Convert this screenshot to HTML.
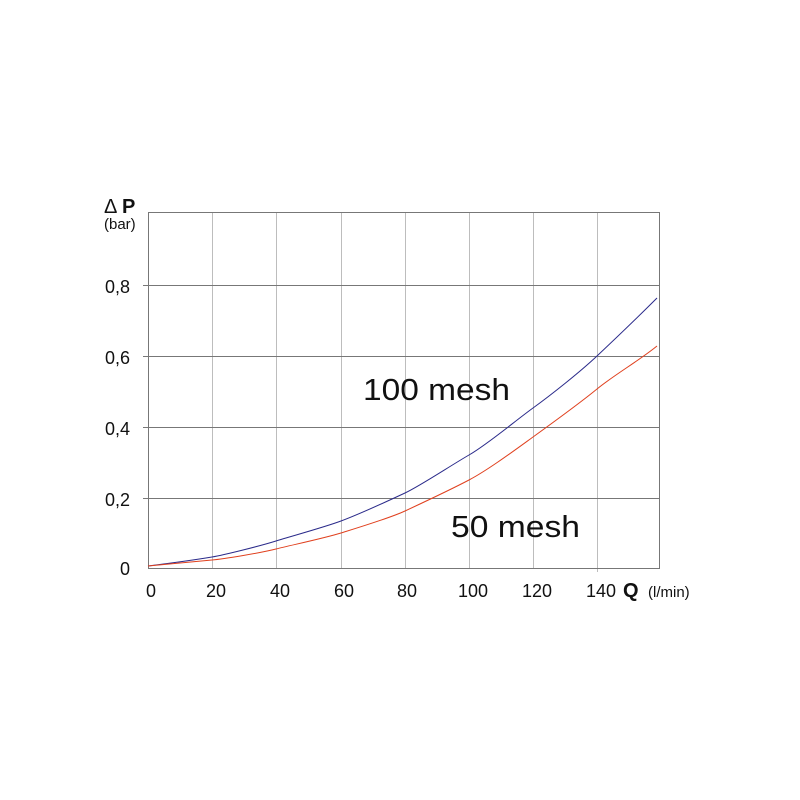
<!DOCTYPE html>
<html><head><style>body{margin:0;background:#fff}svg{display:block}</style></head><body>
<svg width="800" height="800" xmlns="http://www.w3.org/2000/svg" font-family="Liberation Sans, Arial, sans-serif">
<rect width="800" height="800" fill="#fff"/>
<g stroke="#bdbdbd" stroke-width="1">
<line x1="212.5" y1="212" x2="212.5" y2="568"/><line x1="276.5" y1="212" x2="276.5" y2="568"/>
<line x1="341.5" y1="212" x2="341.5" y2="568"/><line x1="405.5" y1="212" x2="405.5" y2="568"/>
<line x1="469.5" y1="212" x2="469.5" y2="568"/><line x1="533.5" y1="212" x2="533.5" y2="568"/>
<line x1="597.5" y1="212" x2="597.5" y2="572"/>
</g>
<g stroke="#777" stroke-width="1">
<line x1="143" y1="285.5" x2="660" y2="285.5"/><line x1="143" y1="356.5" x2="660" y2="356.5"/>
<line x1="143" y1="427.5" x2="660" y2="427.5"/><line x1="143" y1="498.5" x2="660" y2="498.5"/>
<rect x="148.5" y="212.5" width="511" height="356" fill="none"/>
</g>
<path d="M148,566 C180,562 200,559 212,557 S260,546 276,541 S325,527 341,521 S390,500 405,493 S450,466 469,455 S515,421 533,408 S580,372 597,356 S640,315 657,298" fill="none" stroke="#2a2a8a" stroke-width="1"/>
<path d="M148,566 C180,563 200,561 212,560 S260,553 276,549 S325,538 341,533 S390,518 405,511 S450,490 469,480 S515,450 533,437 S580,403 597,389 S640,360 657,346" fill="none" stroke="#e0401e" stroke-width="1"/>
<g font-size="18" fill="#111" text-anchor="end">
<text x="130" y="293">0,8</text><text x="130" y="364">0,6</text><text x="130" y="435">0,4</text><text x="130" y="506">0,2</text><text x="130" y="575">0</text>
</g>
<g font-size="18" fill="#111" text-anchor="middle">
<text x="151" y="597">0</text><text x="216" y="597">20</text><text x="280" y="597">40</text><text x="344" y="597">60</text><text x="407" y="597">80</text><text x="473" y="597">100</text><text x="537" y="597">120</text><text x="601" y="597">140</text>
</g>
<text x="623" y="597" font-size="20" font-weight="bold" fill="#111">Q</text>
<text x="648" y="597" font-size="15" fill="#111">(l/min)</text>
<text x="104" y="213" font-size="20" fill="#111">Δ</text><text x="122" y="213" font-size="20" font-weight="bold" fill="#111">P</text>
<text x="104" y="229" font-size="15" fill="#111">(bar)</text>
<text x="363" y="400" font-size="31" fill="#111" textLength="147" lengthAdjust="spacingAndGlyphs">100 mesh</text>
<text x="451" y="537" font-size="31" fill="#111" textLength="129" lengthAdjust="spacingAndGlyphs">50 mesh</text>
</svg>
</body></html>
